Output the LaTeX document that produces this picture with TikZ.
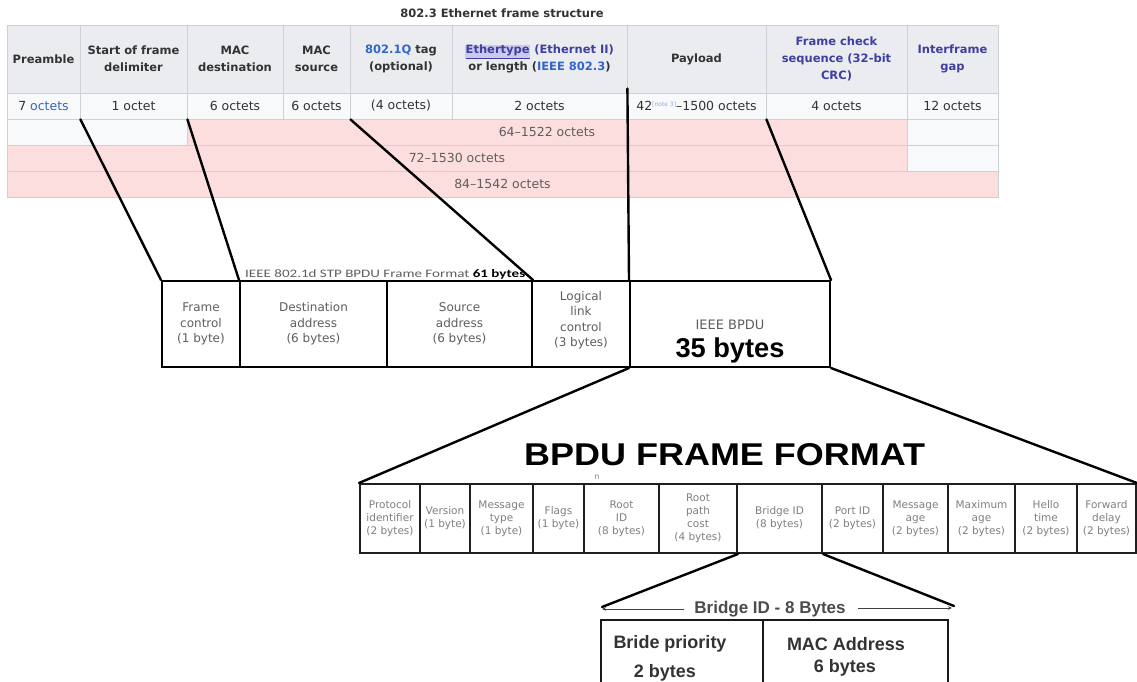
\documentclass[tikz,border=0pt]{standalone}
\usepackage{fontspec}
\setmainfont{DejaVu Sans}
\newfontfamily\arialfont{Liberation Sans}
\newfontfamily\calfont{Carlito}
\usetikzlibrary{arrows.meta}

\definecolor{headbg}{HTML}{EAECF0}
\definecolor{rowbg}{HTML}{F8F9FA}
\definecolor{gridc}{HTML}{CDD1D6}
\definecolor{pinkbg}{HTML}{FDDEDE}
\definecolor{linkc}{HTML}{3366CC}
\definecolor{visitc}{HTML}{3F3F9E}
\definecolor{hlc}{HTML}{CACAF0}
\definecolor{txtdark}{HTML}{333333}
\definecolor{txtgrey}{HTML}{5E5E5E}
\definecolor{txtlight}{HTML}{808080}

\newcommand\fsz[2]{\fontsize{#1}{#2}\selectfont}

\begin{document}
\begin{tikzpicture}[x=1pt,y=-1pt,
  cell/.style={draw=gridc, line width=0.8pt, inner sep=0pt, align=center, text=txtdark},
  head/.style={cell, fill=headbg, font=\bfseries\fsz{11.5}{17}},
  octcell/.style={cell, fill=rowbg, font=\fsz{12.5}{15}},
  pinkcell/.style={cell, fill=pinkbg, font=\fsz{12.5}{15}, text=txtgrey},
  plaincell/.style={cell, fill=rowbg},
  framecell/.style={draw=black, line width=2pt, inner sep=0pt, align=center,
                    font=\fsz{12}{15.5}, text=txtgrey},
  bpducell/.style={draw=black!88, line width=2pt, inner sep=0pt, align=center,
                   font=\fsz{10.5}{13}, text=txtlight, minimum height=69pt},
  bidcell/.style={draw=black!90, line width=2.2pt, inner sep=0pt},
  bidtext/.style={inner sep=0pt, anchor=base, font=\arialfont\bfseries\fsz{18}{18}, text=txtdark},
  wire/.style={line width=2.4pt, black, line cap=round},
  thinwire/.style={line width=1pt, black!75}
]
\useasboundingbox (0,0) rectangle (1137,682);
\clip (0,0) rectangle (1137,682);
\fill[white] (0,0) rectangle (1137,682);

% ---------- 802.3 frame table ----------
\node[inner sep=0pt, anchor=base, font=\bfseries\fsz{11.5}{12}, text=txtdark] (ttitle) at (502,18)
  {802.3 Ethernet frame structure};

\node[head, minimum width=73pt,  minimum height=68pt] (hPre) at (43.5,59)  {Preamble};
\node[head, minimum width=107pt, minimum height=68pt] (hSof) at (133.5,59) {Start of frame\\delimiter};
\node[head, minimum width=96pt,  minimum height=68pt] (hDst) at (235,59)   {MAC\\destination};
\node[head, minimum width=67pt,  minimum height=68pt] (hSrc) at (316.5,59) {MAC\\source};
\node[head, minimum width=102pt, minimum height=68pt] (hTag) at (401,59)   {\textcolor{linkc}{802.1Q} tag\\(optional)};
\node[head, minimum width=175pt, minimum height=68pt] (hEth) at (539.5,59)
  {{\setlength\fboxsep{0.6pt}\colorbox{hlc}{\textcolor{visitc}{\underline{Ethertype}}}} \textcolor{visitc}{(Ethernet II)}\\or length (\textcolor{linkc}{IEEE 802.3})};
\node[head, minimum width=139pt, minimum height=68pt] (hPay) at (696.5,59) {Payload};
\node[head, minimum width=141pt, minimum height=68pt, text=visitc] (hFcs) at (836.5,59) {Frame check\\sequence (32-bit\\CRC)};
\node[head, minimum width=91pt,  minimum height=68pt, text=visitc] (hIfg) at (952.5,59) {Interframe\\gap};

\node[octcell, minimum width=73pt,  minimum height=26pt] (oPre) at (43.5,106)  {7 \textcolor{linkc}{octets}};
\node[octcell, minimum width=107pt, minimum height=26pt] (oSof) at (133.5,106) {1 octet};
\node[octcell, minimum width=96pt,  minimum height=26pt] (oDst) at (235,106)   {6 octets};
\node[octcell, minimum width=67pt,  minimum height=26pt] (oSrc) at (316.5,106) {6 octets};
\node[octcell, minimum width=102pt, minimum height=26pt] (oTag) at (401,106)   {(4 octets)};
\node[octcell, minimum width=175pt, minimum height=26pt] (oEth) at (539.5,106) {2 octets};
\node[octcell, minimum width=139pt, minimum height=26pt] (oPay) at (696.5,106)
  {42\raisebox{4.5pt}{\fsz{6}{6}\textcolor{linkc!55}{[note 3]}}–1500 octets};
\node[octcell, minimum width=141pt, minimum height=26pt] (oFcs) at (836.5,106) {4 octets};
\node[octcell, minimum width=91pt,  minimum height=26pt] (oIfg) at (952.5,106) {12 octets};

\node[plaincell, minimum width=180pt, minimum height=26pt] (r3a) at (97,132)    {};
\node[pinkcell,  minimum width=720pt, minimum height=26pt] (r3b) at (547,132)   {64–1522 octets};
\node[plaincell, minimum width=91pt,  minimum height=26pt] (r3c) at (952.5,132) {};
\node[pinkcell,  minimum width=900pt, minimum height=26pt] (r4a) at (457,158)   {72–1530 octets};
\node[plaincell, minimum width=91pt,  minimum height=26pt] (r4b) at (952.5,158) {};
\node[pinkcell,  minimum width=991pt, minimum height=26pt] (r5)  at (502.5,184) {84–1542 octets};

% ---------- 802.1d STP BPDU frame ----------
\node[inner sep=0pt, anchor=base west, text=txtgrey] (ftitle) at (245,277)
  {\resizebox{280pt}{8pt}{\calfont IEEE 802.1d STP BPDU Frame Format \textcolor{black}{\bfseries 61 bytes}}};

\node[framecell, minimum width=78pt,  minimum height=86pt] (fFc)  at (201,324)   {Frame\\control\\(1 byte)};
\node[framecell, minimum width=147pt, minimum height=86pt] (fDst) at (313.5,324) {Destination\\address\\(6 bytes)};
\node[framecell, minimum width=145pt, minimum height=86pt] (fSrc) at (459.5,324) {Source\\address\\(6 bytes)};
\node[framecell, minimum width=98pt,  minimum height=86pt] (fLlc) at (581,324)   {};
\node[inner sep=0pt, align=center, font=\fsz{12}{15.5}, text=txtgrey] (llctext) at (581,320)
  {Logical\\link\\control\\(3 bytes)};
\node[framecell, minimum width=200pt, minimum height=86pt] (fBpdu) at (730,324)  {};
\node[inner sep=0pt, font=\fsz{13}{13}, text=txtgrey] (bpduname) at (730,325) {IEEE BPDU};
\node[inner sep=0pt, anchor=base] (bpdusize) at (730,357)
  {\resizebox{109pt}{!}{\arialfont\bfseries 35 bytes}};

% ---------- BPDU frame format ----------
\node[inner sep=0pt, anchor=base west] (bpdutitle) at (524,465)
  {\resizebox{401pt}{22pt}{\arialfont\bfseries BPDU FRAME FORMAT}};
\node[inner sep=0pt, font=\fsz{8}{8}, text=txtlight] (stray) at (597,477) {n};

\node[bpducell, minimum width=60pt] (b1)  at (390,518.5)    {Protocol\\identifier\\(2 bytes)};
\node[bpducell, minimum width=50pt] (b2)  at (445,518.5)    {Version\\(1 byte)};
\node[bpducell, minimum width=63pt] (b3)  at (501.5,518.5)  {Message\\type\\(1 byte)};
\node[bpducell, minimum width=51pt] (b4)  at (558.5,518.5)  {Flags\\(1 byte)};
\node[bpducell, minimum width=75pt] (b5)  at (621.5,518.5)  {Root\\ID\\(8 bytes)};
\node[bpducell, minimum width=78pt] (b6)  at (698,518.5)    {Root\\path\\cost\\(4 bytes)};
\node[bpducell, minimum width=85pt] (b7)  at (779.5,518.5)  {Bridge ID\\(8 bytes)};
\node[bpducell, minimum width=61pt] (b8)  at (852.5,518.5)  {Port ID\\(2 bytes)};
\node[bpducell, minimum width=65pt] (b9)  at (915.5,518.5)  {Message\\age\\(2 bytes)};
\node[bpducell, minimum width=67pt] (b10) at (981.5,518.5)  {Maximum\\age\\(2 bytes)};
\node[bpducell, minimum width=62pt] (b11) at (1046,518.5)   {Hello\\time\\(2 bytes)};
\node[bpducell, minimum width=59pt] (b12) at (1106.5,518.5) {Forward\\delay\\(2 bytes)};

% ---------- Bridge ID ----------
\node[inner sep=0pt, anchor=base, font=\arialfont\bfseries\fsz{17}{17}, text=black!70] (bidtitle) at (770,613)
  {Bridge ID - 8 Bytes};
\coordinate (dimL) at (602,609);
\coordinate (dimR) at (952,608);
\draw[thinwire, {Stealth[length=4pt,width=3.5pt]}-] (dimL) -- ([xshift=-10pt]bidtitle.west |- dimL);
\draw[thinwire, -{Stealth[length=4pt,width=3.5pt]}] ([xshift=12pt]bidtitle.east |- dimR) -- (dimR);

\node[bidcell, minimum width=162pt, minimum height=100pt] (bidPrio) at (682,670) {};
\node[bidcell, minimum width=185pt, minimum height=100pt] (bidMac)  at (855.5,670) {};
\node[bidtext] (prioname) at (670,648) {Bride priority};
\node[bidtext] (priosize) at (665,677) {2 bytes};
\node[bidtext] (macname)  at (846,650) {MAC Address};
\node[bidtext] (macsize)  at (845,672) {6 bytes};

% ---------- connectors ----------
\draw[wire] (oPre.south east) -- (fFc.north west);
\draw[wire] (oSof.south east) -- (fDst.north west);
\draw[wire] (oSrc.south east) -- (fSrc.north east);
\draw[wire] ([yshift=4pt]oEth.north east) -- (fBpdu.north west);
\draw[wire] (oPay.south east) -- (fBpdu.north east);
\draw[wire] (fBpdu.south west) -- (b1.north west);
\draw[wire] (fBpdu.south east) -- (b12.north east);
\draw[wire] (b6.south east) -- ([yshift=2pt]dimL);
\draw[wire] (b7.south east) -- ([xshift=2pt,yshift=2pt]dimR);
\end{tikzpicture}
\end{document}
